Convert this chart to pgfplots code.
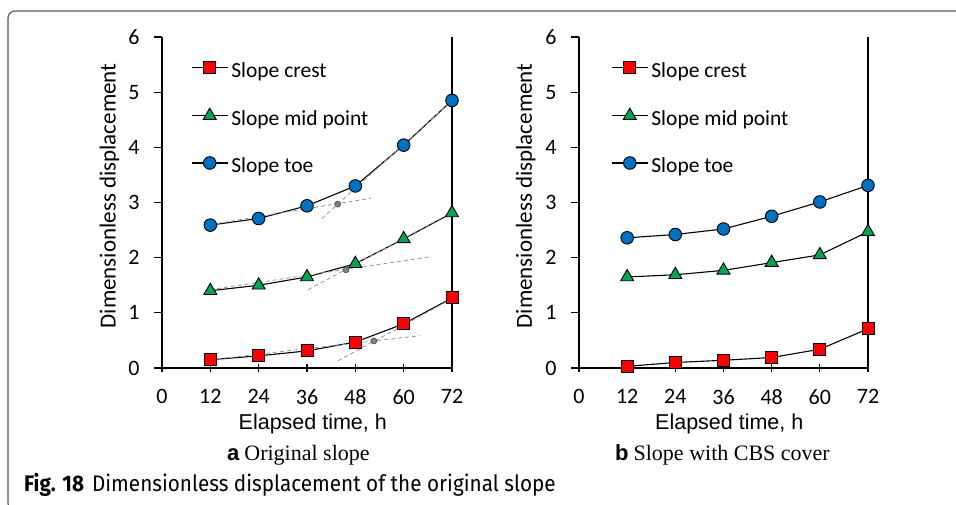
\documentclass[border=0pt]{standalone}
\usepackage{fontspec}
\usepackage{pgfplots}
\pgfplotsset{compat=1.18}
\setmainfont{Carlito}
\newfontfamily\arialfont{Liberation Sans}
\newfontfamily\timesfont{Liberation Serif}
\newfontfamily\capfont[FakeStretch=0.92]{Fira Sans}

\definecolor{crestred}{RGB}{255,0,0}
\definecolor{midgreen}{RGB}{0,166,80}
\definecolor{toeblue}{RGB}{0,112,192}
\definecolor{tangentgray}{RGB}{150,150,150}
\definecolor{framegray}{RGB}{90,90,90}

\pgfplotsset{
  panel/.style={
    scale only axis, width=290pt, height=331pt,
    xmin=0, xmax=72, ymin=0, ymax=6,
    xtick={0,12,...,72}, ytick={0,1,...,6},
    axis x line*=bottom, axis y line*=left,
    axis line style={line width=1.2pt, -},
    every tick/.style={black, line width=1.2pt},
    major tick length=8pt,
    xtick align=center, ytick align=outside,
    tick label style={font=\fontsize{22}{26}\selectfont},
    /pgf/number format/assume math mode=true,
    xticklabel shift=14pt,
    yticklabel shift=11pt,
    xlabel={Elapsed time, h},
    ylabel={Dimensionless displacement},
    xlabel style={font=\arialfont\fontsize{21.5}{25}\selectfont,
      at={(axis description cs:0.52,0)}, anchor=center, yshift=-56pt},
    ylabel style={font=\fontsize{23}{27}\selectfont,
      at={(axis description cs:-0.135,0.52)}, anchor=south},
    extra x ticks={72}, extra x tick labels={},
    extra x tick style={grid=major,
      major grid style={black, line width=1.1pt}, major tick length=0pt},
    legend cell align=left,
    legend image code/.code={
      \draw[mark repeat=2, mark phase=2]
        plot coordinates {(0pt,6pt) (18pt,6pt) (36pt,6pt)};},
    legend style={draw=none, fill=none, inner sep=0pt, anchor=north west,
      row sep=25pt, column sep=3pt,
      font=\fontsize{21.5}{26}\selectfont,
      nodes={inner sep=0pt, text height=14pt, text depth=6pt}},
  },
  crest/.style={black, line width=1.1pt, mark=square*, mark size=6pt,
    mark options={fill=crestred, draw=black, line width=0.9pt}},
  mid/.style={black, line width=1.1pt, mark=triangle*, mark size=7.5pt,
    mark options={fill=midgreen, draw=black, line width=0.9pt}},
  toe/.style={black, line width=1.1pt, mark=*, mark size=6.3pt,
    mark options={fill=toeblue, draw=black, line width=0.9pt}},
  tangent/.style={tangentgray, line width=0.8pt, dash pattern=on 4pt off 3pt,
    forget plot},
  knee/.style={only marks, mark=*, mark size=3pt,
    mark options={fill=gray, draw=black!70, line width=0.6pt}, forget plot},
}

\begin{document}
\begin{tikzpicture}[x=1pt, y=1pt]
  \useasboundingbox (0,0) rectangle (956,504);
  % outer frame
  \draw[framegray, line width=1.2pt, rounded corners=7pt]
    (970,493) -- (8,493) -- (8,-6) -- (970,-6);

  % (a) original slope
  \begin{axis}[panel, at={(162pt,136pt)}, anchor=south west, clip=false,
      legend style={at={(0.1,0.9275)}}]
    \addplot[crest] coordinates {(12,0.15) (24,0.22) (36,0.31) (48,0.47) (60,0.80) (72,1.27)};
    \addlegendentry{Slope crest}
    \addplot[mid] coordinates {(12,1.40) (24,1.50) (36,1.65) (48,1.89) (60,2.34) (72,2.81)};
    \addlegendentry{Slope mid point}
    \addplot[toe] coordinates {(12,2.59) (24,2.71) (36,2.94) (48,3.30) (60,4.04) (72,4.85)};
    \addlegendentry{Slope toe}
    % tangent construction lines and their intersections
    \addplot[tangent] coordinates {(12,0.15) (64,0.585)};
    \addplot[tangent] coordinates {(43.7,0.13) (74.4,1.35)};
    \addplot[knee] coordinates {(52.6,0.49)};
    \addplot[tangent] coordinates {(12,1.42) (66.9,2.02)};
    \addplot[tangent] coordinates {(36.3,1.42) (72,2.82)};
    \addplot[knee] coordinates {(45.7,1.78)};
    \addplot[tangent] coordinates {(12,2.60) (52,3.08)};
    \addplot[tangent] coordinates {(39.7,2.71) (72.5,4.88)};
    \addplot[knee] coordinates {(43.6,2.97)};
  \end{axis}

  % (b) slope with CBS cover
  \begin{axis}[panel, at={(579pt,136pt)}, anchor=south west,
      width=289pt, legend style={at={(0.111,0.9275)}},
      ylabel style={at={(axis description cs:-0.138,0.52)}}]
    \addplot[crest] coordinates {(12,0.03) (24,0.10) (36,0.14) (48,0.19) (60,0.34) (72,0.71)};
    \addlegendentry{Slope crest}
    \addplot[mid] coordinates {(12,1.65) (24,1.69) (36,1.77) (48,1.91) (60,2.05) (72,2.47)};
    \addlegendentry{Slope mid point}
    \addplot[toe] coordinates {(12,2.36) (24,2.42) (36,2.52) (48,2.75) (60,3.01) (72,3.31)};
    \addlegendentry{Slope toe}
  \end{axis}

  % panel captions
  \node[anchor=base west, inner sep=0pt, font=\fontsize{22}{26}\selectfont] at (227,44)
    {{\arialfont\bfseries a} {\timesfont Original slope}};
  \node[anchor=base east, inner sep=0pt, font=\fontsize{22}{26}\selectfont] at (830,44)
    {{\arialfont\bfseries b} {\timesfont Slope with CBS cover}};
  % figure caption
  \node[anchor=base west, inner sep=0pt] at (24,13)
    {\capfont\fontsize{22.5}{26}\selectfont{\bfseries Fig. 18}\hspace{8pt}Dimensionless displacement of the original slope};
\end{tikzpicture}
\end{document}
